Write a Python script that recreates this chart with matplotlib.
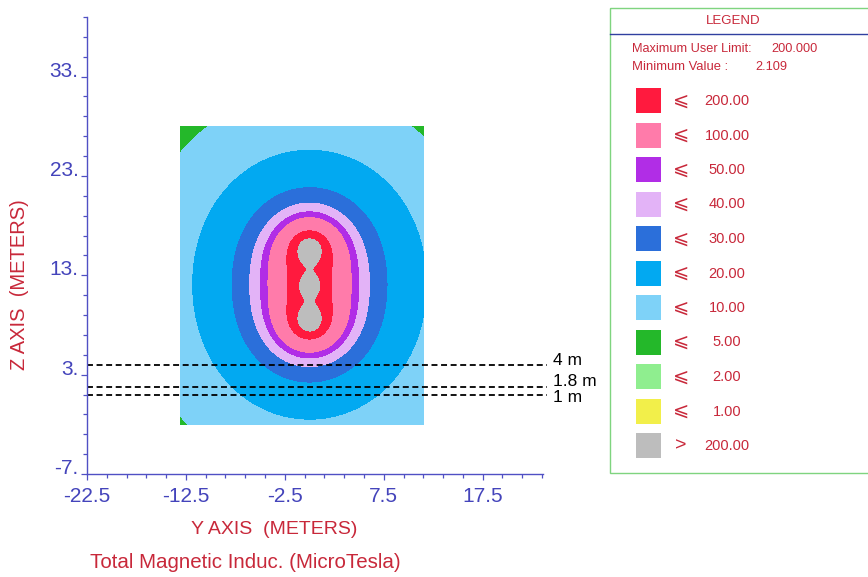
import matplotlib
matplotlib.use("Agg")
import matplotlib.pyplot as plt
import numpy as np
from matplotlib.patches import Rectangle

plt.rcParams["font.family"] = ["Liberation Sans", "DejaVu Sans"]

# Conductors of the vertical 3-phase line (position in m, current in A, phase in deg)
cond_y = [0.0, 0.0, 0.0]
cond_z = [15.65, 11.95, 8.4]
cond_amp = [1185.0, 950.0, 1185.0]
cond_phase = [120.0, 0.0, -120.0]

# Calculation area
area_y = [-13.0, 11.5]
area_z = [-2.0, 28.0]

# Contour bands (MicroTesla) and their colours, low to high
levels = [0, 1, 2, 5, 10, 20, 30, 40, 50, 100, 200, 1e6]
band_colors = ["#F2EF4A", "#8FEE8F", "#24B82A", "#7ED2F8", "#02A9F1",
               "#2B6FDA", "#E3B3F7", "#B12DE6", "#FF7BAA", "#FF1A3E", "#BDBDBD"]

# Legend rows, top to bottom
legend_colors = ["#FF1A3E", "#FF7BAA", "#B12DE6", "#E3B3F7", "#2B6FDA", "#02A9F1",
                 "#7ED2F8", "#24B82A", "#8FEE8F", "#F2EF4A", "#BDBDBD"]
legend_signs = ["⩽"] * 10 + [">"]
legend_values = ["200.00", "100.00", "50.00", "40.00", "30.00", "20.00",
                 "10.00", "5.00", "2.00", "1.00", "200.00"]

# Measurement heights
line_heights = [4.0, 1.8, 1.0]
line_labels = ["4 m", "1.8 m", "1 m"]

x_major = [-22.5, -12.5, -2.5, 7.5, 17.5]
x_labels = ["-22.5", "-12.5", "-2.5", "7.5", "17.5"]
y_major = [-7, 3, 13, 23, 33]
y_labels = ["-7.", "3.", "13.", "23.", "33."]

axis_blue = "#5050C4"
tick_blue = "#4444BB"
text_red = "#C8283A"

# field of the line currents: B = 0.2 * I / r  (uT, A, m)
yy, zz = np.meshgrid(np.linspace(area_y[0], area_y[1], 600),
                     np.linspace(area_z[0], area_z[1], 700))
bx = np.zeros(yy.shape, dtype=complex)
bz = np.zeros(yy.shape, dtype=complex)
for y0, z0, amp, ph in zip(cond_y, cond_z, cond_amp, cond_phase):
    cur = amp * np.exp(1j * np.deg2rad(ph))
    dy = yy - y0
    dz = zz - z0
    r2 = dy ** 2 + dz ** 2 + 1e-6
    bx += -0.2 * cur * dz / r2
    bz += 0.2 * cur * dy / r2
field = np.sqrt(np.abs(bx) ** 2 + np.abs(bz) ** 2)
field = np.minimum(field, 1e5)

fig = plt.figure(figsize=(8.68, 5.77), dpi=100)
ax = fig.add_axes([87 / 868, 1 - 474 / 577, (543 - 87) / 868, (474 - 17) / 577])

ax.contourf(yy, zz, field, levels=levels, colors=band_colors, antialiased=False)

# dashed measurement lines, labels nudged apart like the original
label_nudge = [0.4, 0.5, -0.3]
for h, lab, dn in zip(line_heights, line_labels, label_nudge):
    ax.plot([-22.5, 24.0], [h, h], color="black", lw=1.3,
            ls=(0, (3.3, 2.0)), clip_on=False)
    ax.text(24.6, h + dn, lab, fontsize=12.5, va="center", ha="left", clip_on=False)

ax.set_xlim(-22.5, 23.6)
ax.set_ylim(-7, 39)
for side in ["top", "right"]:
    ax.spines[side].set_visible(False)
for side in ["left", "bottom"]:
    ax.spines[side].set_color(axis_blue)
    ax.spines[side].set_linewidth(1.0)

ax.set_xticks(x_major)
ax.set_xticklabels(x_labels)
ax.set_xticks(np.arange(-22.5, 23.6, 2.0), minor=True)
ax.set_yticks(y_major)
ax.set_yticklabels(y_labels)
ax.set_yticks(np.arange(-7, 39.1, 2.0), minor=True)
ax.tick_params(which="both", direction="out", color=axis_blue, width=0.9)
ax.tick_params(which="major", length=4.5, labelsize=15, labelcolor=tick_blue)
ax.tick_params(which="minor", length=3)
ax.tick_params(axis="x", which="major", pad=5)
ax.tick_params(axis="y", which="major", pad=1.5)
for t in ax.get_yticklabels():
    t.set_verticalalignment("baseline")

fig.text(274 / 868, 1 - 530 / 577, "Y AXIS  (METERS)", color=text_red,
         fontsize=14, ha="center", va="center")
fig.text(245 / 868, 1 - 563 / 577, "Total Magnetic Induc. (MicroTesla)",
         color=text_red, fontsize=14.8, ha="center", va="center")
fig.text(20 / 868, 1 - 285 / 577, "Z AXIS  (METERS)", color=text_red,
         fontsize=14.5, ha="center", va="center", rotation=90)

# legend panel drawn in pixel coordinates
lg = fig.add_axes([0, 0, 1, 1])
lg.set_xlim(0, 868)
lg.set_ylim(577, 0)
lg.axis("off")
lg.add_patch(Rectangle((610, 8), 270, 465, fill=False, edgecolor="#7FD47F", lw=1.0))
lg.plot([610, 868], [34, 34], color="#3040A0", lw=1.0)
lg.text(733, 21, "LEGEND", color=text_red, fontsize=9.5, ha="center", va="center")
lg.text(632, 49, "Maximum User Limit:", color=text_red, fontsize=9.2, va="center")
lg.text(771, 49, "200.000", color=text_red, fontsize=9.2, va="center")
lg.text(632, 67, "Minimum Value :", color=text_red, fontsize=9.4, va="center")
lg.text(755, 67, "2.109", color=text_red, fontsize=9.2, va="center")
for i, (c, s, v) in enumerate(zip(legend_colors, legend_signs, legend_values)):
    top = 88 + i * 34.5
    lg.add_patch(Rectangle((636, top), 25, 25, facecolor=c, edgecolor="none"))
    lg.text(681, top + 13, s, color=text_red, fontsize=14, ha="center", va="center")
    lg.text(727, top + 13, v, color=text_red, fontsize=10.5, ha="center", va="center")

fig.savefig("out.png", dpi=100)
